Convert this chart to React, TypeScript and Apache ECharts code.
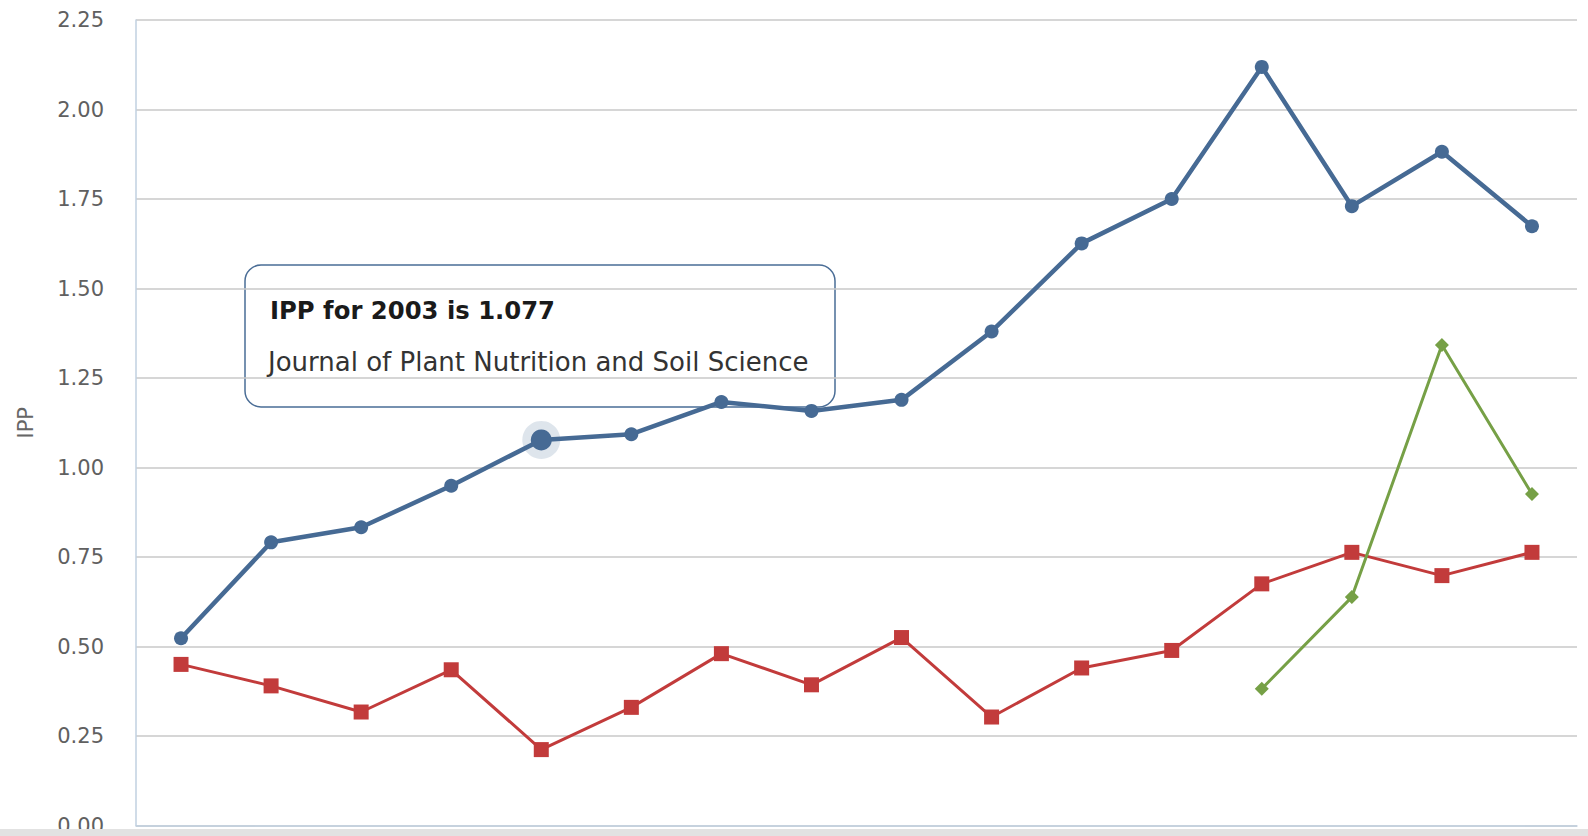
import React, { useEffect, useRef } from "react";
import * as echarts from "echarts";

const years = ["1999", "2000", "2001", "2002", "2003", "2004", "2005", "2006", "2007", "2008", "2009", "2010", "2011", "2012", "2013", "2014"];
const ippPlantNutrition = [0.523, 0.791, 0.833, 0.949, 1.077, 1.093, 1.183, 1.158, 1.189, 1.38, 1.626, 1.75, 2.119, 1.73, 1.882, 1.674];
const ippJournalB = [0.45, 0.39, 0.317, 0.435, 0.212, 0.33, 0.48, 0.393, 0.525, 0.303, 0.44, 0.489, 0.675, 0.763, 0.698, 0.763];
const ippJournalC = [null, null, null, null, null, null, null, null, null, null, null, null, 0.382, 0.638, 1.342, 0.926];
const yTicks = [0, 0.25, 0.5, 0.75, 1, 1.25, 1.5, 1.75, 2, 2.25];
const journalName = "Journal of Plant Nutrition and Soil Science";
const hoverIndex = 4;

const FONT = "'DejaVu Sans', sans-serif";
const BLUE = "#466a94";
const RED = "#c23b3b";
const GREEN = "#76a046";

export default function App() {
  const ref = useRef<HTMLDivElement>(null);
  useEffect(() => {
    document.body.style.margin = "0";
    const chart = echarts.init(ref.current!, undefined, { renderer: "svg" });
    const option: any = {
      animation: false,
      backgroundColor: "#ffffff",
      grid: { left: 136, right: 11, top: 20, bottom: 7, containLabel: false },
      xAxis: {
        type: "category",
        data: years,
        boundaryGap: true,
        axisLine: { show: true, lineStyle: { color: "#c0d0e0", width: 1.5 } },
        axisTick: { show: false },
        axisLabel: { show: false },
        splitLine: { show: false },
      },
      yAxis: {
        type: "value",
        min: yTicks[0],
        max: yTicks[yTicks.length - 1],
        interval: 0.25,
        name: "IPP",
        nameLocation: "middle",
        nameGap: 100,
        nameTextStyle: { color: "#666666", fontSize: 21, fontFamily: FONT },
        axisLine: { show: true, lineStyle: { color: "#c0d0e0", width: 1.5 } },
        axisTick: { show: false },
        axisLabel: {
          margin: 32,
          color: "#606060",
          fontSize: 21,
          fontFamily: FONT,
          formatter: (v: number) => v.toFixed(2),
        },
        splitLine: { show: true, lineStyle: { color: "#c8c8c8", width: 1.5 } },
      },
      series: [
        {
          name: "halo",
          type: "scatter",
          silent: true,
          z: 1,
          symbol: "circle",
          symbolSize: 38,
          itemStyle: { color: "rgba(70,106,148,0.22)" },
          data: [[years[hoverIndex], ippPlantNutrition[hoverIndex]]],
        },
        {
          name: journalName,
          type: "line",
          z: 2,
          symbol: "circle",
          symbolSize: 14,
          lineStyle: { color: BLUE, width: 4.5 },
          itemStyle: { color: BLUE },
          data: ippPlantNutrition.map((v, i) => (i === hoverIndex ? { value: v, symbolSize: 21 } : v)),
        },
        {
          name: "Journal B",
          type: "line",
          z: 3,
          symbol: "rect",
          symbolSize: 15,
          lineStyle: { color: RED, width: 3 },
          itemStyle: { color: RED },
          data: ippJournalB,
        },
        {
          name: "Journal C",
          type: "line",
          z: 4,
          symbol: "diamond",
          symbolSize: 14,
          lineStyle: { color: GREEN, width: 3 },
          itemStyle: { color: GREEN },
          data: ippJournalC,
        },
      ],
      graphic: [
        {
          type: "group",
          z: 100,
          children: [
            {
              type: "rect",
              shape: { x: 245, y: 265, width: 590, height: 142, r: 16 },
              style: {
                fill: "rgba(255,255,255,0.88)",
                stroke: "#4a6d96",
                lineWidth: 1.5,
              },
            },
            {
              type: "text",
              x: 270,
              y: 310,
              style: {
                text: `IPP for ${years[hoverIndex]} is ${ippPlantNutrition[hoverIndex].toFixed(3)}`,
                fill: "#1a1a1a",
                fontSize: 24.3,
                fontWeight: "bold",
                fontFamily: FONT,
                verticalAlign: "middle",
              },
            },
            {
              type: "text",
              x: 268,
              y: 362,
              style: {
                text: journalName,
                fill: "#333333",
                fontSize: 26,
                fontFamily: FONT,
                verticalAlign: "middle",
              },
            },
          ],
        },
        {
          type: "rect",
          z: 200,
          left: 0,
          top: 829,
          shape: { x: 0, y: 0, width: 1588, height: 7 },
          style: { fill: "#e2e2e2" },
        },
      ],
    };
    chart.setOption(option);
    return () => chart.dispose();
  }, []);
  return <div ref={ref} style={{ position: "fixed", left: 0, top: 0, width: 1588, height: 836 }} />;
}
